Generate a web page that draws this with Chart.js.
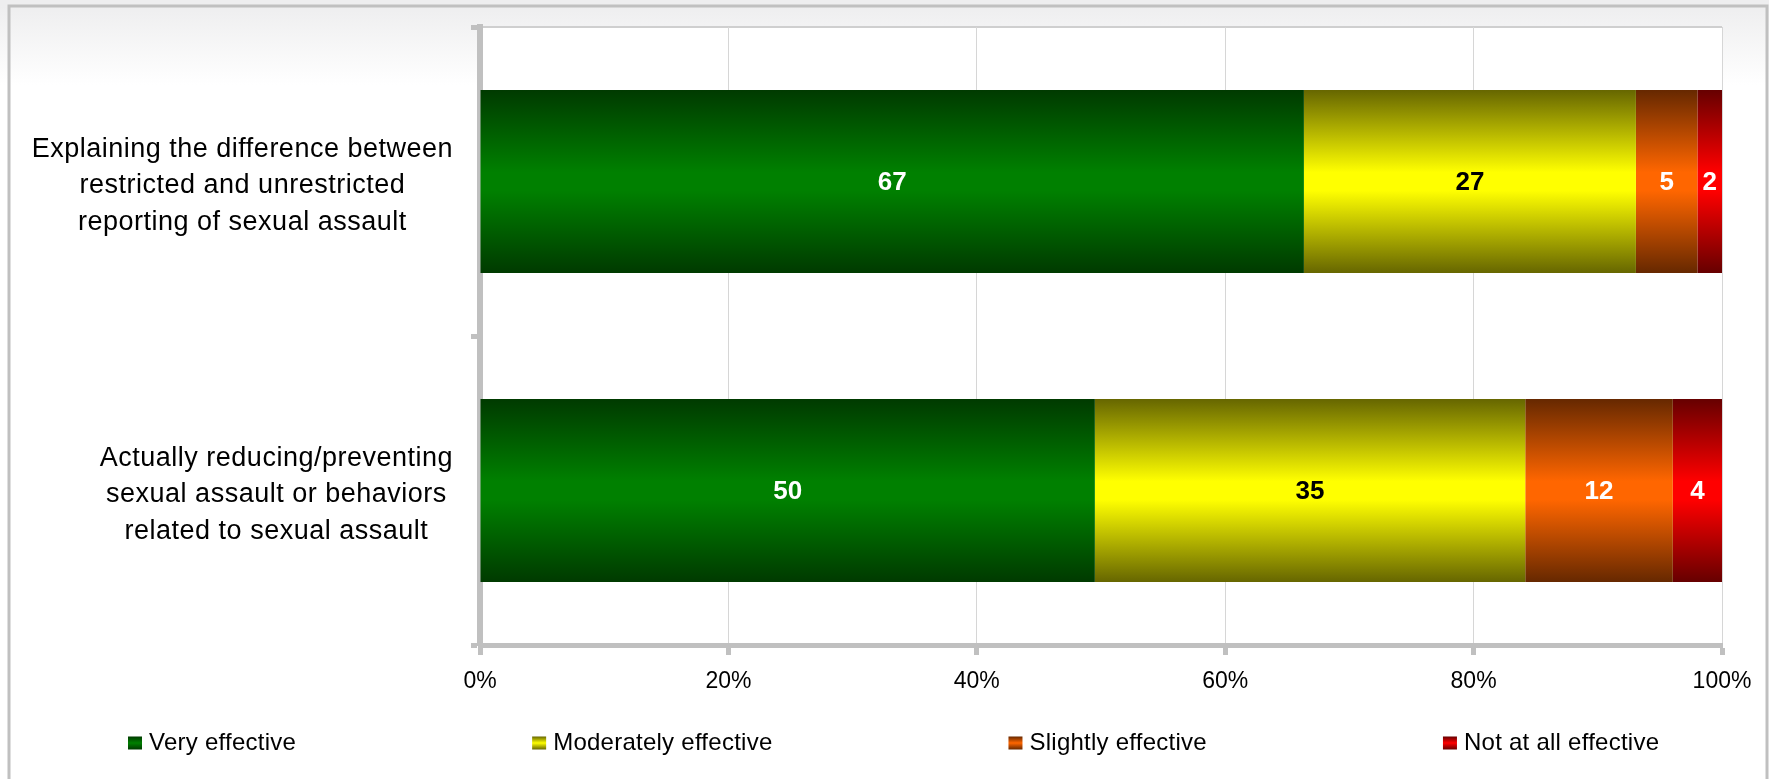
<!DOCTYPE html>
<html>
<head>
<meta charset="utf-8">
<script src="https://cdn.jsdelivr.net/npm/chart.js@4.4.0/dist/chart.umd.min.js"></script>
<style>
  html, body { margin: 0; padding: 0; background: #fff; }
  #wrap { width: 1769px; height: 779px; position: relative; }
</style>
</head>
<body>
<div id="wrap"><canvas id="effChart" width="1769" height="779"></canvas></div>
<script>
// categories, top to bottom
const categories = [
    ['Explaining the difference between', 'restricted and unrestricted', 'reporting of sexual assault'],
    ['Actually reducing/preventing', 'sexual assault or behaviors', 'related to sexual assault']
];
const seriesNames = ['Very effective', 'Moderately effective', 'Slightly effective', 'Not at all effective'];
const veryEffective = [67, 50];
const moderatelyEffective = [27, 35];
const slightlyEffective = [5, 12];
const notAtAllEffective = [2, 4];
const xTickValues = [0, 20, 40, 60, 80, 100];

const seriesValues = [veryEffective, moderatelyEffective, slightlyEffective, notAtAllEffective];
// dark edge / bright middle of each bar gradient
const seriesColors = [
    ['#003a00', '#008000'],
    ['#666600', '#ffff00'],
    ['#662800', '#ff6600'],
    ['#660000', '#ff0000']
];
const labelColors = ['#ffffff', '#000000', '#ffffff', '#ffffff'];

const BAR_PCT = 0.593;
const FONT = "'Liberation Sans', Arial, sans-serif";

// each row is shown as share of its own total (100% stacked)
const rowTotals = categories.map((_, i) => seriesValues.reduce((s, arr) => s + arr[i], 0));

function barFill(idx) {
    const [dark, bright] = seriesColors[idx];
    return function (c) {
        const chart = c.chart;
        if (!chart.chartArea || c.dataIndex === undefined) return bright;
        const y = chart.scales.y;
        const band = (y.bottom - y.top) / categories.length;
        const half = band * BAR_PCT / 2;
        const cy = y.getPixelForValue(c.dataIndex);
        const g = chart.ctx.createLinearGradient(0, cy - half, 0, cy + half);
        g.addColorStop(0, dark);
        g.addColorStop(0.45, bright);
        g.addColorStop(0.55, bright);
        g.addColorStop(1, dark);
        return g;
    };
}

const backgroundPlugin = {
    id: 'bgFrame',
    beforeDraw(chart) {
        const ctx = chart.ctx;
        const { width, height, chartArea } = chart;
        ctx.save();
        const g = ctx.createLinearGradient(0, 6, 0, 85);
        g.addColorStop(0, '#eeeeef');
        g.addColorStop(1, '#ffffff');
        ctx.fillStyle = g;
        ctx.fillRect(0, 0, width, height);
        ctx.fillStyle = '#ffffff';
        ctx.fillRect(chartArea.left, chartArea.top, chartArea.right - chartArea.left, chartArea.bottom - chartArea.top);
        ctx.strokeStyle = '#c0c0c0';
        ctx.lineWidth = 3;
        ctx.strokeRect(9, 6, width - 11, height + 20);
        // plot area top edge
        ctx.strokeStyle = '#cfcfcf';
        ctx.lineWidth = 2;
        ctx.beginPath();
        ctx.moveTo(chartArea.left, chartArea.top);
        ctx.lineTo(chartArea.right, chartArea.top);
        ctx.stroke();
        ctx.restore();
    }
};

const categoryLabelPlugin = {
    id: 'catLabels',
    afterDraw(chart) {
        const ctx = chart.ctx;
        const y = chart.scales.y;
        const rightEdge = chart.chartArea.left - 27;
        const lineH = 36.7;
        ctx.save();
        ctx.font = '27px ' + FONT;
        ctx.letterSpacing = '0.5px';
        ctx.fillStyle = '#000';
        ctx.textAlign = 'center';
        ctx.textBaseline = 'middle';
        categories.forEach((lines, i) => {
            const widest = Math.max(...lines.map(l => ctx.measureText(l).width));
            const cx = rightEdge - widest / 2;
            const cy = y.getPixelForTick(i) + 4.5;
            lines.forEach((l, k) => {
                ctx.fillText(l, cx, cy + (k - (lines.length - 1) / 2) * lineH);
            });
        });
        ctx.restore();
    }
};

const valueLabelPlugin = {
    id: 'valueLabels',
    afterDatasetsDraw(chart) {
        const ctx = chart.ctx;
        ctx.save();
        ctx.font = 'bold 26px ' + FONT;
        ctx.textAlign = 'center';
        ctx.textBaseline = 'middle';
        chart.data.datasets.forEach((ds, di) => {
            const meta = chart.getDatasetMeta(di);
            meta.data.forEach((bar, i) => {
                const p = bar.getProps(['x', 'y', 'base'], true);
                ctx.fillStyle = labelColors[di];
                ctx.fillText(String(ds.rawValues[i]), (p.x + p.base) / 2, p.y + 1);
            });
        });
        ctx.restore();
    }
};

const legendPlugin = {
    id: 'customLegend',
    afterDraw(chart) {
        const ctx = chart.ctx;
        const yc = 743;
        let x = 128;
        ctx.save();
        ctx.font = '24px ' + FONT;
        ctx.letterSpacing = '0.25px';
        ctx.textBaseline = 'middle';
        ctx.textAlign = 'left';
        seriesNames.forEach((name, i) => {
            const [dark, bright] = seriesColors[i];
            const g = ctx.createLinearGradient(0, yc - 6.5, 0, yc + 6.5);
            g.addColorStop(0, dark);
            g.addColorStop(0.5, bright);
            g.addColorStop(1, dark);
            ctx.fillStyle = g;
            ctx.fillRect(x, yc - 6.5, 14, 13);
            ctx.fillStyle = '#000';
            ctx.fillText(name, x + 21, yc);
            x += 21 + ctx.measureText(name).width + 236;
        });
        ctx.restore();
    }
};

const ctx = document.getElementById('effChart').getContext('2d');
new Chart(ctx, {
    type: 'bar',
    data: {
        labels: categories,
        datasets: seriesNames.map((name, si) => ({
            label: name,
            data: seriesValues[si].map((v, i) => v / rowTotals[i] * 100),
            rawValues: seriesValues[si],
            backgroundColor: barFill(si),
            borderWidth: 0,
            barPercentage: 1,
            categoryPercentage: BAR_PCT
        }))
    },
    options: {
        indexAxis: 'y',
        responsive: false,
        animation: false,
        events: [],
        layout: { padding: { top: 27, right: 47, bottom: 0, left: 0 } },
        scales: {
            x: {
                stacked: true,
                min: 0,
                max: 100,
                afterFit(scale) { scale.height = 134; },
                afterBuildTicks(scale) { scale.ticks = xTickValues.map(v => ({ value: v })); },
                ticks: {
                    callback: v => v + '%',
                    color: '#000',
                    padding: 13,
                    font: { family: FONT, size: 23 }
                },
                grid: {
                    color: '#d6d6d6',
                    lineWidth: 1,
                    tickColor: '#c0c0c0',
                    tickWidth: 5,
                    tickLength: 10
                },
                border: { color: '#c0c0c0', width: 5 }
            },
            y: {
                stacked: true,
                afterFit(scale) { scale.width = 480; },
                ticks: { display: false },
                grid: {
                    drawOnChartArea: false,
                    offset: true,
                    tickColor: '#c0c0c0',
                    tickWidth: 5,
                    tickLength: 9
                },
                border: { color: '#c0c0c0', width: 6 }
            }
        },
        plugins: {
            legend: { display: false },
            tooltip: { enabled: false }
        }
    },
    plugins: [backgroundPlugin, categoryLabelPlugin, valueLabelPlugin, legendPlugin]
});
</script>
</body>
</html>
